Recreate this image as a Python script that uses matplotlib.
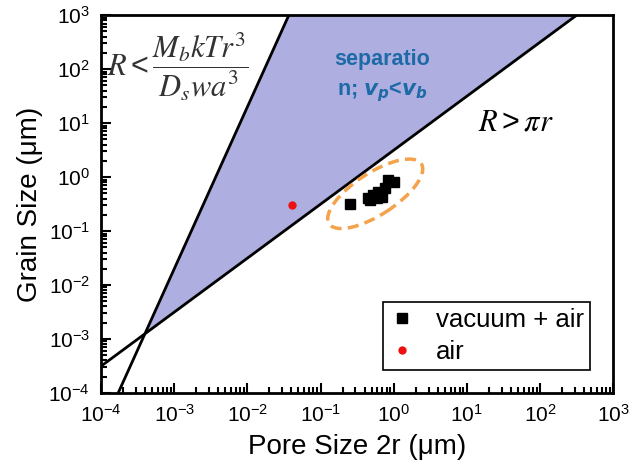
import numpy as np
import matplotlib
matplotlib.use("Agg")
import matplotlib.pyplot as plt
import matplotlib.transforms as mtransforms
from matplotlib.patches import Ellipse

plt.rcParams['font.family'] = ['Liberation Sans', 'DejaVu Sans']
plt.rcParams['mathtext.default'] = 'regular'

# data
vac_air_x = [0.25, 0.44, 0.48, 0.53, 0.60, 0.62, 0.70, 0.77, 0.84, 1.02]
vac_air_y = [0.32, 0.41, 0.37, 0.46, 0.41, 0.53, 0.43, 0.63, 0.88, 0.81]
air_x = [0.041]
air_y = [0.30]

# boundary lines: R = A * (2r)^3 and R = pi * (2r)
cube_coef = 10 ** 7.3
lin_coef = np.pi

fig = plt.figure(figsize=(6.32, 4.74), dpi=100)
ax = fig.add_axes([0.160, 0.171, 0.810, 0.797])
ax.set_xscale('log')
ax.set_yscale('log')
ax.set_xlim(1e-4, 1e3)
ax.set_ylim(1e-4, 1e3)

xx = np.logspace(-4, 3, 400)
y_cube = cube_coef * xx ** 3
y_lin = lin_coef * xx
ax.fill_between(xx, y_lin, np.minimum(y_cube, 1e4), where=y_cube > y_lin,
                color='#AEAEE0', zorder=1, linewidth=0)
ax.plot(xx, y_cube, color='black', lw=2, zorder=2)
ax.plot(xx, y_lin, color='black', lw=2, zorder=2)

ax.plot(vac_air_x, vac_air_y, 's', color='black', ms=6.5, zorder=4, label='vacuum + air')
ax.plot(air_x, air_y, 'o', color='#EE1111', ms=6, mec='none', zorder=4, label='air')

# dashed ellipse around the cluster (sizes in pixels)
trans = mtransforms.Affine2D() + mtransforms.ScaledTranslation(0.56, 0.49, ax.transData)
ell = Ellipse((0, 0), width=110, height=42, angle=33, transform=trans,
              fill=False, edgecolor='#F4A24C', lw=2.5, linestyle=(0, (3.2, 1.8)), zorder=3)
ax.add_patch(ell)

ax.text(0.012, 0.862, r'$\mathit{R}<\dfrac{\mathit{M_bkTr^3}}{\mathit{D_swa^3}}$',
        transform=ax.transAxes, fontsize=22, color='#333333', ha='left', va='center',
        math_fontfamily='stix')
ax.text(0.81, 0.717, r'$\mathit{R}>\mathit{\pi r}$', transform=ax.transAxes, fontsize=22,
        color='black', ha='center', va='center', math_fontfamily='stix')
ax.text(0.549, 0.838, 'separatio\nn; $\\mathbfit{v_p}$<$\\mathbfit{v_b}$', transform=ax.transAxes,
        fontsize=15.5, fontweight='bold', color='#1E6AA6', ha='center', va='center',
        linespacing=1.6)

ax.set_xlabel('Pore Size 2r (\u03bcm)', fontsize=20, labelpad=6)
ax.set_ylabel('Grain Size (\u03bcm)', fontsize=20, labelpad=4)

ax.tick_params(which='both', direction='in', top=False, right=False, labelsize=15, width=1.5)
ax.tick_params(which='major', length=7, pad=8)
ax.tick_params(which='minor', length=4)
for s in ax.spines.values():
    s.set_linewidth(2)

leg = ax.legend(loc='lower right', bbox_to_anchor=(0.955, 0.06), fontsize=18.5,
                frameon=True, fancybox=False, edgecolor='black', framealpha=1,
                borderpad=0.25, handletextpad=0.8, handlelength=1.0, labelspacing=0.3,
                borderaxespad=0)
leg.get_frame().set_linewidth(1.2)

fig.savefig('out.png', dpi=100)
